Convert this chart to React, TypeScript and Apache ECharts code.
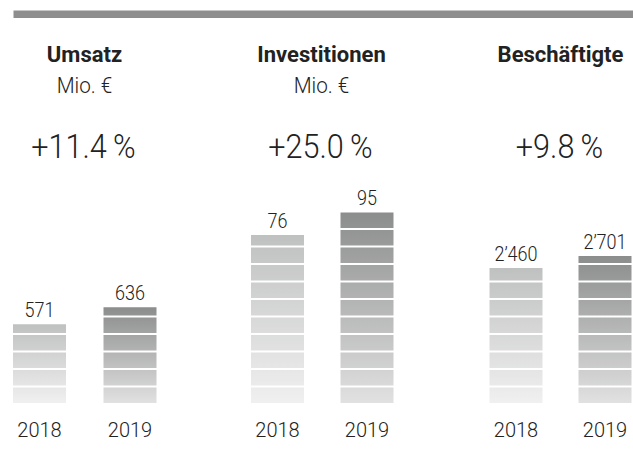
import React, { useEffect, useRef } from 'react';
import * as echarts from 'echarts';

const years = ['2018', '2019'];
const umsatz = [571, 636];
const investitionen = [76, 95];
const beschaeftigte = [2460, 2701];
const panelTitles = ['Umsatz', 'Investitionen', 'Beschäftigte'];
const panelUnits = ['Mio. €', 'Mio. €', ''];
const panelChanges = ['+11.4\u2009%', '+25.0\u2009%', '+9.8\u2009%'];

const panelData = [umsatz, investitionen, beschaeftigte];
// layout of the three panels (grid left = centre of first bar, width = distance between bars)
const panelLayout = [
  { left: 39.5, width: 90.5, min: 270, max: 1122, center: 84.5 },
  { left: 277.5, width: 89.5, min: -63, max: 121.4, center: 321.5 },
  { left: 516, width: 89, min: -251, max: 4227.6, center: 560.5 },
];

const FONT = 'Roboto, "Liberation Sans", sans-serif';
const TEXT = '#222222';

const fmt = (v: number) => String(v).replace(/\B(?=(\d{3})+(?!\d))/g, '\u2019');

const makeRenderItem = (min: number) => (params: any, api: any) => {
  const idx = params.dataIndex;
  const value = api.value(1);
  const topPt = api.coord([api.value(0), value]);
  const basePt = api.coord([api.value(0), min]);
  const cx = topPt[0];
  const top = topPt[1];
  const bottom = basePt[1];
  const barW = 53;
  const pitch = 17.5;
  const segH = 15.5;
  const cTop = idx === 0 ? '#bfc1c0' : '#8b8c8c';
  const cBottom = idx === 0 ? '#f0f0f0' : '#e1e1e1';
  const fill = new echarts.graphic.LinearGradient(
    0, top, 0, bottom,
    [{ offset: 0, color: cTop }, { offset: 1, color: cBottom }],
    true
  );
  const children: any[] = [];
  for (let yb = bottom; yb > top + 0.5; yb -= pitch) {
    const yt = Math.max(top, yb - segH);
    children.push({
      type: 'rect',
      shape: { x: cx - barW / 2, y: yt, width: barW, height: yb - yt },
      style: { fill },
    });
  }
  children.push({
    type: 'text',
    x: cx,
    y: top - 13.8,
    scaleX: 0.9,
    style: {
      text: fmt(value),
      font: `300 20px ${FONT}`,
      fill: TEXT,
      align: 'center',
      verticalAlign: 'middle',
      textAlign: 'center',
      textVerticalAlign: 'middle',
    },
  });
  return { type: 'group', children };
};

export default function App() {
  const ref = useRef<HTMLDivElement>(null);
  useEffect(() => {
    if (!ref.current) return;
    const chart = echarts.init(ref.current, undefined, { renderer: 'svg' });

    const grids = panelLayout.map((p) => ({
      left: p.left,
      width: p.width,
      top: 180,
      bottom: 70,
      containLabel: false,
    }));
    const xAxes = panelLayout.map((_, i) => ({
      type: 'category',
      gridIndex: i,
      data: years,
      boundaryGap: false,
      axisLine: { show: false },
      axisTick: { show: false },
      splitLine: { show: false },
      axisLabel: {
        fontFamily: FONT,
        fontWeight: 300,
        fontSize: 20,
        color: TEXT,
        margin: 27,
        verticalAlign: 'middle',
        interval: 0,
      },
    }));
    const yAxes = panelLayout.map((p, i) => ({
      type: 'value',
      gridIndex: i,
      min: p.min,
      max: p.max,
      show: false,
      splitLine: { show: false },
    }));
    const series = panelLayout.map((p, i) => ({
      type: 'custom',
      xAxisIndex: i,
      yAxisIndex: i,
      clip: false,
      renderItem: makeRenderItem(p.min),
      encode: { x: 0, y: 1 },
      data: panelData[i].map((v, j) => [j, v]),
    }));

    const texts: any[] = [];
    panelLayout.forEach((p, i) => {
      texts.push({
        type: 'text',
        x: p.center,
        y: 54,
        style: {
          text: panelTitles[i],
          font: `bold 22px ${FONT}`,
          fill: TEXT,
          textAlign: 'center',
          textVerticalAlign: 'middle',
        },
      });
      if (panelUnits[i]) {
        texts.push({
          type: 'text',
          x: p.center,
          y: 85.5,
          scaleX: 0.94,
          style: {
            text: panelUnits[i],
            font: `300 22px ${FONT}`,
            fill: TEXT,
            textAlign: 'center',
            textVerticalAlign: 'middle',
          },
        });
      }
      texts.push({
        type: 'text',
        x: p.center - 1,
        y: 146,
        scaleX: 0.9,
        style: {
          text: panelChanges[i],
          font: `300 34px ${FONT}`,
          fill: TEXT,
          textAlign: 'center',
          textVerticalAlign: 'middle',
        },
      });
    });

    chart.setOption({
      animation: false,
      backgroundColor: '#ffffff',
      grid: grids,
      xAxis: xAxes,
      yAxis: yAxes,
      series,
      graphic: [
        {
          type: 'rect',
          shape: { x: 13.5, y: 10.5, width: 620, height: 7.5 },
          style: { fill: '#8e8e8e' },
        },
        ...texts,
      ],
    });
    return () => chart.dispose();
  }, []);
  return (
    <div
      ref={ref}
      style={{ position: 'absolute', left: 0, top: 0, width: 633, height: 473 }}
    />
  );
}
